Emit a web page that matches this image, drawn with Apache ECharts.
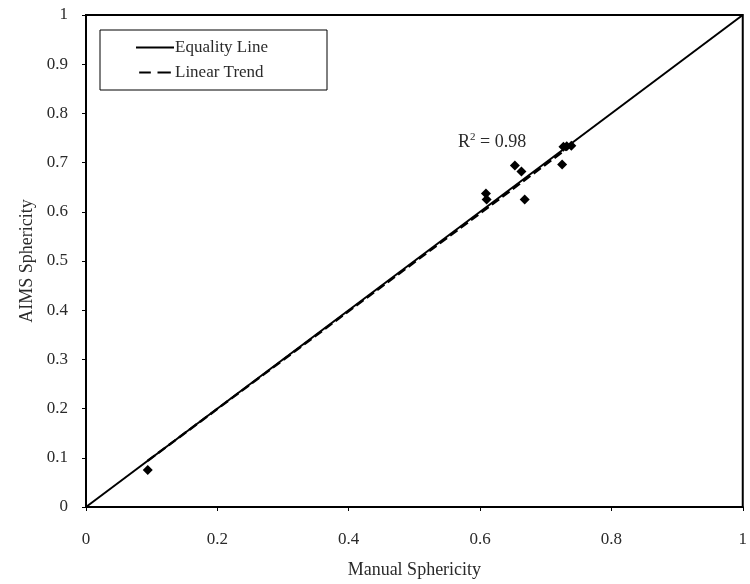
<!DOCTYPE html>
<html>
<head>
<meta charset="utf-8">
<script src="https://cdn.jsdelivr.net/npm/echarts@6/dist/echarts.min.js"></script>
<style>html,body{margin:0;padding:0;background:#fff;}#c{width:750px;height:584px;}</style>
</head>
<body>
<div id="c"></div>
<script>
// Data
const manualSphericity = [0.094, 0.609, 0.610, 0.653, 0.663, 0.668, 0.725, 0.727, 0.732, 0.739];
const aimsSphericity   = [0.075, 0.637, 0.625, 0.694, 0.682, 0.625, 0.696, 0.732, 0.733, 0.734];
const equalityX = [0, 1];
const equalityY = [0, 1];
const trendX = [0.094, 0.742];
const trendY = [0.094, 0.738];
const xTicks = [0, 0.2, 0.4, 0.6, 0.8, 1];
const yTicks = [0, 0.1, 0.2, 0.3, 0.4, 0.5, 0.6, 0.7, 0.8, 0.9, 1];
const r2Label = '0.98';

const font = '"Liberation Serif", "DejaVu Serif", serif';
const txtColor = '#2a2a2a';

const chart = echarts.init(document.getElementById('c'));
chart.setOption({
  animation: false,
  backgroundColor: '#fff',
  grid: { left: 86, right: 2, top: 15, bottom: 76, show: true, borderColor: '#000', borderWidth: 2 },
  xAxis: {
    type: 'value', min: 0, max: 1, interval: 0.2,
    name: 'Manual Sphericity', nameLocation: 'middle', nameGap: 54,
    nameTextStyle: { fontFamily: font, fontSize: 18, color: txtColor },
    axisLine: { show: true, lineStyle: { color: '#000', width: 2 } },
    axisTick: { show: true, length: 4, lineStyle: { color: '#000' } },
    axisLabel: { fontFamily: font, fontSize: 17, color: txtColor, margin: 24,
      formatter: v => xTicks.includes(+v.toFixed(1)) ? String(+v.toFixed(1)) : '' },
    splitLine: { show: false }
  },
  yAxis: {
    type: 'value', min: 0, max: 1, interval: 0.1,
    name: 'AIMS Sphericity', nameLocation: 'middle', nameGap: 48, nameRotate: 90,
    nameTextStyle: { fontFamily: font, fontSize: 18, color: txtColor },
    axisLine: { show: true, lineStyle: { color: '#000', width: 2 } },
    axisTick: { show: true, length: 4, lineStyle: { color: '#000' } },
    axisLabel: { fontFamily: font, fontSize: 17, color: txtColor, margin: 18,
      formatter: v => yTicks.includes(+v.toFixed(1)) ? String(+v.toFixed(1)) : '' },
    splitLine: { show: false }
  },
  legend: {
    left: 100, top: 30, orient: 'vertical',
    data: [
      { name: 'Equality Line', icon: 'path://M0,0h38v2h-38z' },
      { name: 'Linear Trend', icon: 'path://M0,0h14v2.4h-14z M22,0h16v2.4h-16z' }
    ],
    itemStyle: { color: '#000', borderWidth: 0 },
    borderColor: '#000', borderWidth: 1,
    padding: [9, 59, 9, 36], itemGap: 8, itemWidth: 38, itemHeight: 2,
    textStyle: { fontFamily: font, fontSize: 17, color: txtColor, padding: [0, 0, 0, -4] }
  },
  graphic: [{
    type: 'text', left: 458, top: 132,
    style: {
      text: 'R{s|2} = ' + r2Label,
      rich: { s: { fontSize: 11, verticalAlign: 'top', fontFamily: font, fill: txtColor, padding: [0, 0, 9, 0] } },
      fontFamily: font, fontSize: 18, fill: txtColor
    }
  }],
  series: [
    {
      name: 'Equality Line', type: 'line', symbol: 'none', silent: true,
      data: equalityX.map((x, i) => [x, equalityY[i]]),
      lineStyle: { color: '#000', width: 2 }, itemStyle: { color: '#000' }, z: 2
    },
    {
      name: 'Linear Trend', type: 'line', symbol: 'none', silent: true,
      data: trendX.map((x, i) => [x, trendY[i]]),
      lineStyle: { color: '#000', width: 2.4, type: [9, 4] }, itemStyle: { color: '#000' }, z: 3
    },
    {
      name: 'Data', type: 'scatter', symbol: 'diamond', symbolSize: 10,
      data: manualSphericity.map((x, i) => [x, aimsSphericity[i]]),
      itemStyle: { color: '#000', opacity: 1 }, z: 4
    }
  ]
});
</script>
</body>
</html>
